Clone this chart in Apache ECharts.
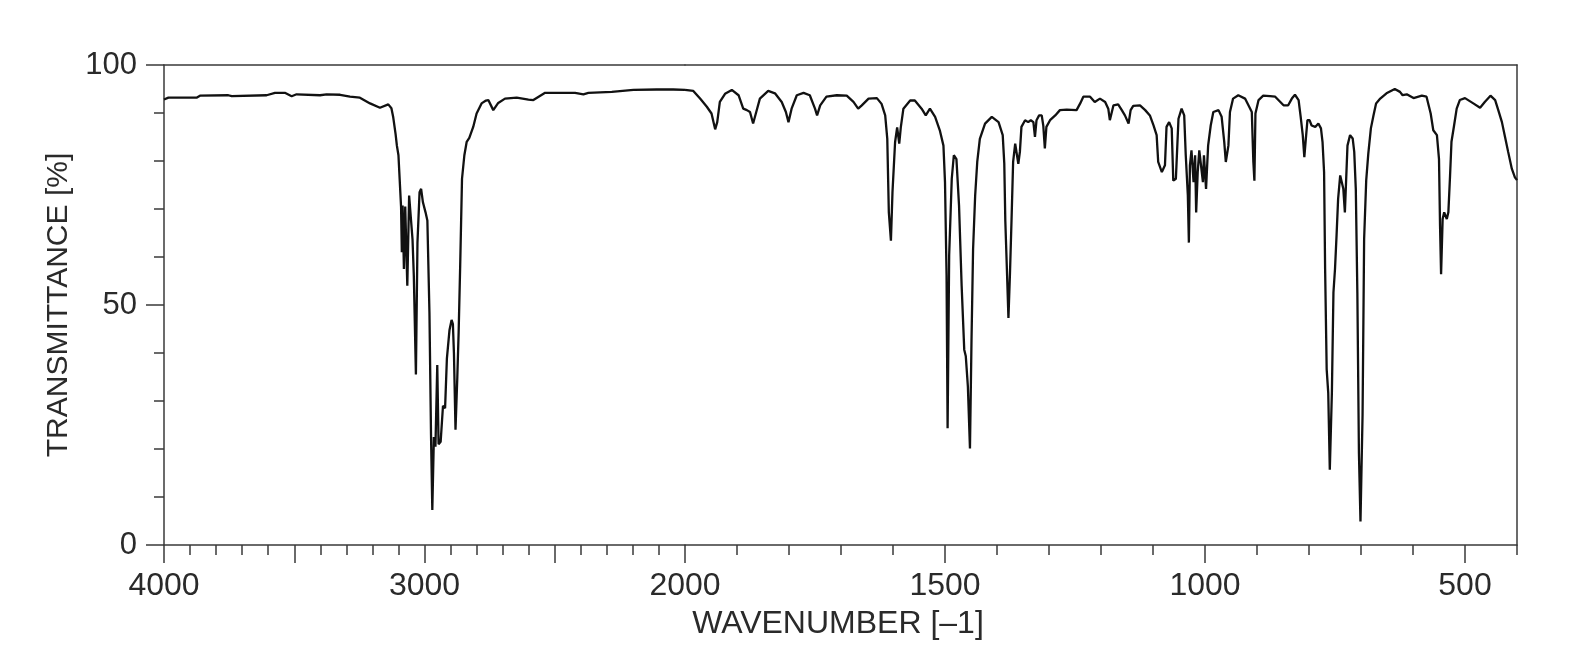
<!DOCTYPE html>
<html>
<head>
<meta charset="utf-8">
<title>IR spectrum</title>
<script src="https://cdn.jsdelivr.net/npm/echarts@6.0.0/dist/echarts.min.js"></script>
<style>
    html, body { margin: 0; padding: 0; background: #fff; }
    #chart { width: 1582px; height: 664px; }
</style>
</head>
<body>
<div id="chart"></div>
<script>
// Wavenumbers (cm-1), high to low
const wavenumbers = [
    4000, 3983, 3875, 3862, 3753, 3740, 3606, 3574, 3536, 3510, 3491, 3401, 3376, 3324, 3286, 3248,
    3209, 3171, 3139, 3127, 3120, 3111, 3106, 3100, 3093, 3090, 3087, 3084, 3079, 3074, 3066, 3059,
    3052, 3046, 3041, 3033, 3027, 3019, 3013, 3006, 2996, 2989, 2981, 2975, 2970, 2964, 2958, 2951,
    2946, 2938, 2929, 2921, 2914, 2904, 2896, 2891, 2887, 2881, 2874, 2869, 2863, 2856, 2847, 2838,
    2828, 2813, 2800, 2781, 2764, 2755, 2736, 2717, 2691, 2646, 2601, 2582, 2537, 2422, 2390, 2371,
    2281, 2198, 2109, 2045, 2000,
    1984, 1971, 1958, 1949, 1942, 1938, 1933, 1923, 1910, 1897, 1888, 1881, 1875, 1869, 1863, 1856,
    1840, 1827, 1814, 1806, 1801, 1795, 1785, 1772, 1760, 1750, 1746, 1740, 1728, 1708, 1689, 1676,
    1667, 1660, 1647, 1631, 1622, 1615, 1611, 1608, 1604, 1601, 1596, 1592, 1588, 1585, 1580, 1567,
    1558, 1545, 1537, 1529, 1519, 1510, 1503, 1500, 1497, 1495, 1492, 1487, 1483, 1478, 1473, 1468,
    1463, 1460, 1456, 1452, 1449, 1446, 1442, 1438, 1433, 1423, 1410, 1397, 1389, 1386, 1384, 1381,
    1378, 1375, 1372, 1369, 1365, 1362, 1359, 1356, 1353, 1346, 1340, 1335, 1330, 1327, 1324, 1319,
    1314, 1311, 1308, 1305, 1298, 1288, 1279, 1266, 1247, 1240, 1234, 1221, 1212, 1202, 1192, 1186,
    1183, 1176, 1167, 1160, 1154, 1147, 1143, 1138, 1125, 1115, 1106, 1099, 1093, 1090, 1083, 1077,
    1074, 1069, 1064, 1061, 1056, 1051, 1045, 1040, 1037, 1033, 1031, 1029, 1026, 1022, 1019, 1017,
    1014, 1011, 1008, 1004, 1002, 998, 994, 989, 984, 974, 968, 963, 960, 955, 952, 946,
    936, 923, 915, 910, 907, 905, 903, 897, 888, 875, 865, 849, 840, 833, 827, 820,
    816, 812, 809, 806, 803, 799, 795, 788, 782, 777, 774, 771, 769, 766, 763, 760,
    756, 753, 750, 747, 744, 740, 737, 734, 731, 729, 726, 721, 716, 713, 710, 707,
    704, 701, 697, 694, 690, 686, 681, 676, 671, 663, 651, 635, 625, 620, 612, 599,
    583, 574, 566, 561, 554, 550, 548, 546, 543, 540, 535, 532, 529, 526, 521, 516,
    510, 500, 484, 471, 462, 451, 442, 436, 429, 423, 417, 410, 404, 400
];

// Transmittance (%) at each wavenumber above
const transmittance = [
    92.8, 93.2, 93.2, 93.6, 93.7, 93.5, 93.7, 94.2, 94.2, 93.5, 93.9, 93.7, 93.9, 93.8, 93.4, 93.2,
    92.0, 91.1, 91.8, 91.0, 89.1, 85.6, 83.2, 81.2, 81.0, 70.5, 61.0, 70.7, 57.5, 70.5, 54.0, 72.8,
    73.0, 63.7, 56.1, 35.5, 63.0, 73.5, 74.2, 71.4, 69.3, 67.6, 48.4, 22.9, 7.3, 22.5, 20.5, 37.5,
    21.0, 21.5, 29.0, 28.5, 38.9, 44.8, 46.9, 46.0, 40.0, 24.0, 35.0, 44.2, 58.2, 76.3, 81.2, 84.0,
    84.8, 87.1, 89.9, 92.0, 92.6, 92.7, 90.6, 92.1, 93.0, 93.2, 92.8, 92.7, 94.2, 94.2, 93.9, 94.2,
    94.4, 94.8, 94.9, 94.9, 94.8,
    94.6, 93.0, 91.3, 89.9, 86.6, 88.1, 92.3, 94.0, 94.8, 93.7, 90.9, 90.6, 90.2, 87.8, 90.2, 93.0,
    94.6, 94.1, 92.3, 90.2, 88.1, 90.9, 93.7, 94.2, 93.7, 90.9, 89.5, 91.6, 93.4, 93.7, 93.6, 92.3,
    90.9, 91.6, 93.0, 93.1, 91.9, 89.5, 84.6, 69.3, 63.4, 73.5, 83.9, 87.0, 83.6, 87.0, 90.9, 92.6,
    92.6, 90.9, 89.5, 90.9, 89.2, 86.4, 83.2, 75.6, 56.1, 24.3, 60.3, 76.3, 81.2, 80.4, 70.7, 54.0,
    40.7, 39.3, 33.0, 20.1, 42.8, 61.6, 72.8, 79.8, 84.6, 87.8, 89.2, 88.1, 85.4, 79.5, 67.5, 57.5,
    47.3, 56.8, 67.9, 79.8, 83.6, 83.6, 79.4, 81.9, 87.1, 88.5, 88.1, 88.5, 88.1, 85.0, 88.5, 89.5,
    89.5, 87.4, 82.6, 87.1, 88.5, 89.5, 90.6, 90.7, 90.6, 92.0, 93.4, 93.4, 92.3, 93.0, 92.3, 90.9,
    88.5, 91.6, 91.8, 90.6, 89.5, 87.8, 90.6, 91.5, 91.6, 90.6, 89.5, 87.4, 85.4, 79.8, 77.7, 79.1,
    87.1, 88.1, 86.8, 75.9, 76.3, 88.8, 90.9, 89.5, 81.2, 72.8, 63.0, 79.1, 82.2, 75.6, 81.2, 69.3,
    77.7, 82.2, 81.9, 75.6, 81.2, 74.2, 83.2, 87.4, 90.2, 90.6, 89.2, 84.0, 79.8, 83.2, 90.2, 93.0,
    93.7, 93.0, 91.3, 90.2, 79.8, 75.9, 89.9, 92.7, 93.6, 93.5, 93.4, 91.6, 91.6, 93.0, 93.8, 92.7,
    89.2, 85.4, 80.8, 84.7, 88.5, 88.5, 87.4, 87.1, 87.8, 86.8, 84.0, 77.7, 57.5, 36.6, 31.7, 15.7,
    31.7, 52.6, 57.5, 64.5, 72.1, 77.0, 77.4, 74.2, 69.3, 74.9, 83.2, 85.4, 84.7, 81.9, 74.2, 52.6,
    19.2, 4.9, 27.1, 63.7, 75.9, 81.5, 86.8, 89.5, 92.0, 93.0, 94.1, 95.0, 94.4, 93.7, 93.9, 93.1,
    93.6, 93.4, 89.9, 86.4, 85.4, 80.4, 66.5, 56.4, 67.9, 69.3, 67.9, 69.3, 76.3, 84.0, 87.4, 90.9,
    92.7, 93.1, 92.0, 91.1, 92.3, 93.6, 92.7, 90.6, 88.1, 85.0, 81.9, 78.4, 76.6, 76.0
];

// Axis tick labels
const xTickLabels = [4000, 3000, 2000, 1500, 1000, 500];
const xLongTicksRight = [500, 1000, 1500, 2000];
const yTickLabels = [0, 50, 100];

// The scale doubles below 2000 cm-1, so the plot is built from two grids
const BREAK = 2000;
const highPart = [];
const lowPart = [];
wavenumbers.forEach((w, i) => {
    if (w >= BREAK) highPart.push([w, transmittance[i]]);
    if (w <= BREAK) lowPart.push([w, transmittance[i]]);
});

const FONT = '"Liberation Sans", Arial, Helvetica, sans-serif';
const AXIS_COLOR = '#3a3a3a';
const TEXT_COLOR = '#2a2a2a';
const LINE_COLOR = '#111';

const chart = echarts.init(document.getElementById('chart'));

const xLabelStyle = { color: TEXT_COLOR, fontFamily: FONT, fontSize: 32 };
const yLabelStyle = { color: TEXT_COLOR, fontFamily: FONT, fontSize: 31 };
const tickLine = { color: AXIS_COLOR, width: 1.5 };

const frameAxis = function (gridIndex, position) {
    return {
        type: 'value',
        gridIndex: gridIndex,
        position: position,
        min: gridIndex === 0 ? 2000 : 400,
        max: gridIndex === 0 ? 4000 : 2000,
        inverse: true,
        axisLine: { show: true, onZero: false, lineStyle: tickLine },
        axisTick: { show: false },
        axisLabel: { show: false },
        splitLine: { show: false }
    };
};

const option = {
    animation: false,
    backgroundColor: '#fff',
    title: {
        text: 'WAVENUMBER [\u20131]',
        left: 833,
        top: 603,
        textAlign: 'center',
        textStyle: { color: TEXT_COLOR, fontFamily: FONT, fontSize: 32, fontWeight: 'normal' }
    },
    grid: [
        { left: 164, width: 521, top: 65, bottom: 119 },
        { left: 685, width: 832, top: 65, bottom: 119 }
    ],
    xAxis: [
        {
            // 4000 - 2000 part
            type: 'value',
            gridIndex: 0,
            position: 'bottom',
            min: 2000,
            max: 4000,
            interval: 500,
            inverse: true,
            axisLine: { onZero: false, lineStyle: tickLine },
            axisTick: { show: true, length: 18, lineStyle: tickLine },
            minorTick: { show: true, splitNumber: 5, length: 10, lineStyle: tickLine },
            axisLabel: Object.assign({
                margin: 25,
                showMinLabel: true,
                showMaxLabel: true,
                formatter: v => xTickLabels.includes(v) ? String(v) : ''
            }, xLabelStyle),
            splitLine: { show: false }
        },
        {
            // 2000 - 400 part, short ticks every 100
            type: 'value',
            gridIndex: 1,
            position: 'bottom',
            min: 400,
            max: 2000,
            interval: 100,
            inverse: true,
            axisLine: { onZero: false, lineStyle: tickLine },
            axisTick: { show: true, length: 10, lineStyle: tickLine },
            axisLabel: Object.assign({
                margin: 25,
                formatter: v => (v !== BREAK && xTickLabels.includes(v)) ? String(v) : ''
            }, xLabelStyle),
            splitLine: { show: false }
        },
        {
            // long ticks at the 500s
            type: 'value',
            gridIndex: 1,
            position: 'bottom',
            min: 400,
            max: 2000,
            inverse: true,
            axisLine: { show: false, onZero: false },
            axisTick: { show: true, length: 18, customValues: xLongTicksRight, lineStyle: tickLine },
            axisLabel: { show: false },
            splitLine: { show: false }
        },
        frameAxis(0, 'top'),
        frameAxis(1, 'top')
    ],
    yAxis: [
        {
            type: 'value',
            gridIndex: 0,
            position: 'left',
            min: 0,
            max: 100,
            interval: 50,
            name: 'TRANSMITTANCE [%]',
            nameLocation: 'middle',
            nameGap: 90,
            nameTextStyle: { color: TEXT_COLOR, fontFamily: FONT, fontSize: 30 },
            axisLine: { show: true, onZero: false, lineStyle: tickLine },
            axisTick: { show: true, length: 18, lineStyle: tickLine },
            minorTick: { show: true, splitNumber: 5, length: 10, lineStyle: tickLine },
            axisLabel: Object.assign({
                margin: 27,
                formatter: v => yTickLabels.includes(v) ? String(v) : ''
            }, yLabelStyle),
            splitLine: { show: false }
        },
        {
            type: 'value',
            gridIndex: 1,
            position: 'right',
            min: 0,
            max: 100,
            axisLine: { show: true, onZero: false, lineStyle: tickLine },
            axisTick: { show: false },
            axisLabel: { show: false },
            splitLine: { show: false }
        }
    ],
    series: [
        {
            name: 'high',
            type: 'line',
            xAxisIndex: 0,
            yAxisIndex: 0,
            data: highPart,
            showSymbol: false,
            lineStyle: { color: LINE_COLOR, width: 2.3 }
        },
        {
            name: 'low',
            type: 'line',
            xAxisIndex: 1,
            yAxisIndex: 1,
            data: lowPart,
            showSymbol: false,
            lineStyle: { color: LINE_COLOR, width: 2.3 }
        }
    ]
};

chart.setOption(option);

window.addEventListener('resize', function () {
    chart.resize();
});
</script>
</body>
</html>
